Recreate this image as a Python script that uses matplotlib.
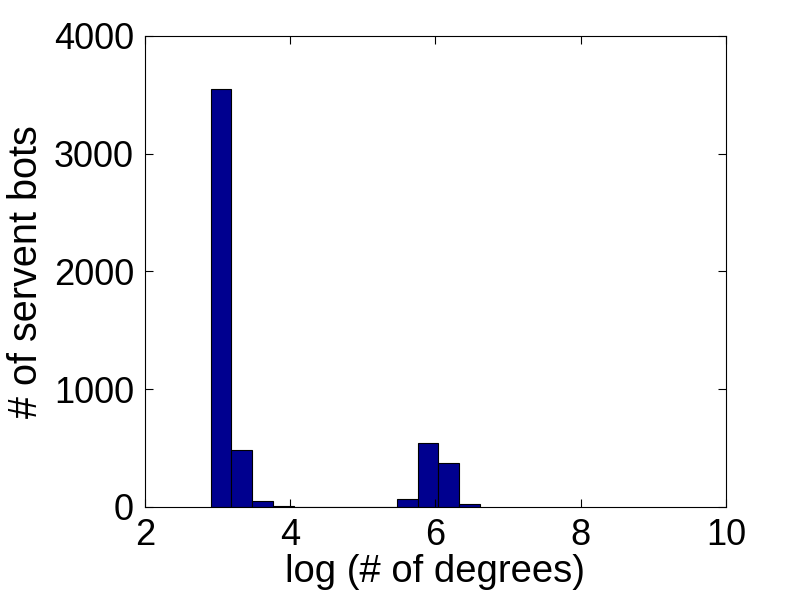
import matplotlib
matplotlib.use("Agg")
import matplotlib.pyplot as plt
import numpy as np

# histogram bins (log degree)
bin_start = 2.905
bin_width = 0.285
counts = [3550, 480, 53, 12, 0, 0, 0, 0, 0, 68, 545, 375, 28]

x_ticks = [2, 4, 6, 8, 10]
y_ticks = [0, 1000, 2000, 3000, 4000]

plt.rcParams["font.family"] = ["Liberation Sans", "DejaVu Sans"]

fig = plt.figure(figsize=(8.02, 6.04), dpi=100)
ax = fig.add_axes([0.1808, 0.1606, 0.7244, 0.7798])

lefts = bin_start + bin_width * np.arange(len(counts))
ax.bar(lefts, counts, width=bin_width, align="edge",
       color="#00008f", edgecolor="black", linewidth=0.8)

ax.set_xlim(2, 10)
ax.set_ylim(0, 4000)
ax.set_xticks(x_ticks)
ax.set_yticks(y_ticks)
ax.tick_params(direction="in", top=True, right=True, length=6,
               labelsize=26, pad=8)
for s in ax.spines.values():
    s.set_linewidth(0.8)

ax.set_xlabel("log (# of degrees)", fontsize=27.5, labelpad=1)
ax.set_ylabel("# of servent bots", fontsize=28.5, labelpad=6)

fig.savefig("out.png", dpi=100)
